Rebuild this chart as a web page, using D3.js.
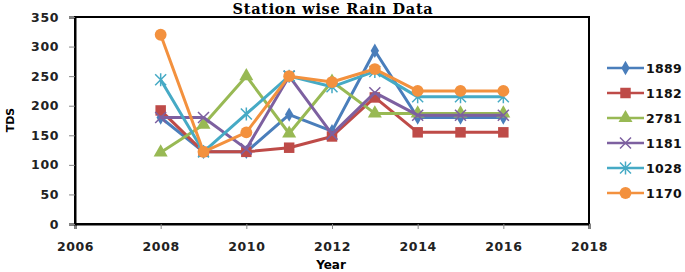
<!DOCTYPE html>
<html>
<head>
<meta charset="utf-8">
<script src="https://cdn.jsdelivr.net/npm/d3@7"></script>
<style>
  body { margin: 0; background: #fff; }
  svg text { font-family: "DejaVu Sans", Verdana, sans-serif; }
</style>
</head>
<body>
<div class="chart"></div>
<script>
// years on the x axis
const years = [2008, 2009, 2010, 2011, 2012, 2013, 2014, 2015, 2016];

// TDS values per station
const s1889 = [180, 122, 122, 185, 157, 293, 180, 180, 180];
const s1182 = [192, 122, 122, 129, 148, 214, 155, 155, 155];
const s2781 = [121, 168, 250, 153, 241, 187, 187, 187, 187];
const s1181 = [180, 180, 127, 250, 152, 222, 184, 184, 184];
const s1028 = [244, 122, 186, 250, 232, 258, 215, 215, 215];
const s1170 = [320, 122, 155, 250, 240, 262, 225, 225, 225];

const seriesNames = ['1889', '1182', '2781', '1181', '1028', '1170'];
const xTicks = [2006, 2008, 2010, 2012, 2014, 2016, 2018];
const yTicks = [0, 50, 100, 150, 200, 250, 300, 350];

const series = [
    { name: '1889', values: s1889, color: '#4a7ebb', shape: 'diamond' },
    { name: '1182', values: s1182, color: '#be4b48', shape: 'square' },
    { name: '2781', values: s2781, color: '#98b954', shape: 'triangle' },
    { name: '1181', values: s1181, color: '#7d60a0', shape: 'x' },
    { name: '1028', values: s1028, color: '#46aac5', shape: 'star' },
    { name: '1170', values: s1170, color: '#f3913e', shape: 'circle' }
];

const W = 685, H = 272;
const margin = { top: 17, right: 96, bottom: 48, left: 75 };
const width = W - margin.left - margin.right;
const height = H - margin.top - margin.bottom;

const svg = d3.select('.chart').append('svg')
    .attr('width', W)
    .attr('height', H);

const g = svg.append('g')
    .attr('transform', `translate(${margin.left},${margin.top})`);

/* Scales */
const xScale = d3.scaleLinear().domain([2006, 2018]).range([0, width]);
const yScale = d3.scaleLinear().domain([0, 350]).range([height, 0]);

/* Frame */
g.append('rect')
    .attr('x', 0).attr('y', 0)
    .attr('width', width).attr('height', height)
    .attr('fill', 'none')
    .attr('stroke', '#000')
    .attr('stroke-width', 2);

/* Axes */
const xAxis = d3.axisBottom(xScale).tickValues(xTicks).tickFormat(d3.format('d')).tickSize(5).tickPadding(13);
const yAxis = d3.axisLeft(yScale).tickValues(yTicks).tickSize(6).tickPadding(10);

g.append('g')
    .attr('class', 'x axis')
    .attr('transform', `translate(0,${height})`)
    .call(xAxis)
    .call(a => a.select('.domain').attr('stroke-width', 2))
    .call(a => a.selectAll('.tick line').attr('stroke', '#888'))
    .call(a => a.selectAll('text').attr('font-size', 12.5).attr('font-weight', 'bold')
        .attr('fill', '#222').attr('letter-spacing', 0.6));

g.append('g')
    .attr('class', 'y axis')
    .call(yAxis)
    .call(a => a.select('.domain').attr('stroke-width', 2))
    .call(a => a.selectAll('.tick line').attr('stroke', '#888'))
    .call(a => a.selectAll('text').attr('font-size', 12.5).attr('font-weight', 'bold')
        .attr('fill', '#222').attr('letter-spacing', 0.6));

/* Lines */
const line = d3.line()
    .x((d, i) => xScale(years[i]))
    .y(d => yScale(d));

const symbolFor = {
    diamond: d3.symbol().type(d3.symbolDiamond).size(60),
    square: d3.symbol().type(d3.symbolSquare).size(110),
    triangle: d3.symbol().type(d3.symbolTriangle).size(85),
    circle: d3.symbol().type(d3.symbolCircle).size(110)
};

function drawMarker(sel, s, x, y) {
    if (s.shape === 'x' || s.shape === 'star') {
        const r = 5.5;
        let p = `M${x - r},${y - r}L${x + r},${y + r}M${x - r},${y + r}L${x + r},${y - r}`;
        if (s.shape === 'star') p += `M${x},${y - r - 1}L${x},${y + r + 1}`;
        sel.append('path').attr('d', p)
            .attr('stroke', s.color).attr('stroke-width', 1.5).attr('fill', 'none');
    } else {
        sel.append('path')
            .attr('d', symbolFor[s.shape]())
            .attr('transform', `translate(${x},${y})`)
            .attr('fill', s.color);
    }
}

series.forEach(s => {
    const grp = g.append('g').attr('class', 'line-group');
    grp.append('path')
        .attr('d', line(s.values))
        .attr('fill', 'none')
        .attr('stroke', s.color)
        .attr('stroke-width', 3)
        .attr('stroke-linejoin', 'round');
    s.values.forEach((v, i) => drawMarker(grp, s, xScale(years[i]), yScale(v)));
});

/* Legend */
const legend = svg.append('g').attr('transform', 'translate(607,68)');
series.forEach((s, i) => {
    const row = legend.append('g').attr('transform', `translate(0,${i * 25})`);
    row.append('line')
        .attr('x1', 0).attr('x2', 37)
        .attr('stroke', s.color).attr('stroke-width', 2.5);
    drawMarker(row, s, 18.5, 0);
    row.append('text')
        .attr('x', 39).attr('y', 4.5)
        .attr('font-size', 12.5)
        .attr('font-weight', 'bold')
        .attr('letter-spacing', 0.3)
        .attr('fill', '#111')
        .text(seriesNames[i]);
});

/* Titles */
svg.append('text')
    .attr('x', 333).attr('y', 14)
    .attr('text-anchor', 'middle')
    .style('font-family', '"DejaVu Serif", serif')
    .attr('font-weight', 'bold')
    .attr('font-size', 14.5)
    .attr('letter-spacing', 0.7)
    .text('Station wise Rain Data');

svg.append('text')
    .attr('x', 331).attr('y', 269)
    .attr('text-anchor', 'middle')
    .attr('font-weight', 'bold')
    .attr('font-size', 12)
    .text('Year');

svg.append('text')
    .attr('transform', 'translate(14,120) rotate(-90)')
    .attr('text-anchor', 'middle')
    .attr('font-weight', 'bold')
    .attr('font-size', 11)
    .text('TDS');
</script>
</body>
</html>
